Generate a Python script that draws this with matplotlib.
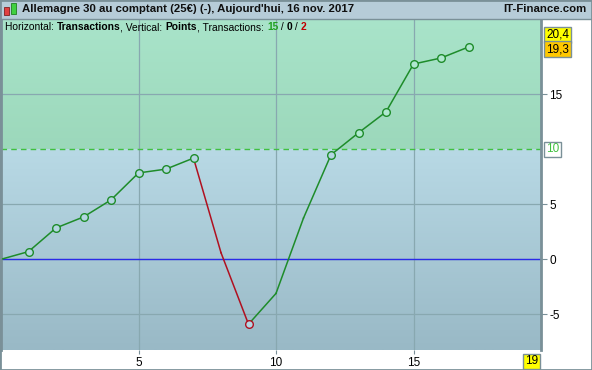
import numpy as np
import matplotlib
matplotlib.use("Agg")
import matplotlib.pyplot as plt
from matplotlib.patches import Rectangle

plt.rcParams['font.family'] = ['Liberation Sans', 'DejaVu Sans']

# Data
x_vals = [0, 1, 2, 3, 4, 5, 6, 7, 8, 9, 10, 11, 12, 13, 14, 15, 16, 17]
y_vals = [0, 0.7, 2.85, 3.85, 5.4, 7.85, 8.2, 9.2, 0.6, -5.9, -3.1, 3.75, 9.5, 11.5, 13.4, 17.75, 18.3, 19.3]
seg_colors = ['green'] * 7 + ['red'] * 2 + ['green'] * 8   # colour of segment i -> i+1
marker_x = [1, 2, 3, 4, 5, 6, 7, 9, 12, 13, 14, 15, 16, 17]
marker_c = ['green'] * 7 + ['red'] + ['green'] * 6
y_ticks = [-5, 0, 5, 15]
x_ticks = [5, 10, 15]
threshold = 10
max_label = 20.4
last_label = 19.3
last_x = 19

title = "Allemagne 30 au comptant (25\u20ac) (-), Aujourd'hui, 16 nov. 2017"
site = "IT-Finance.com"

GREEN = '#1e8c2a'
RED = '#b01020'

W, H = 592, 370
fig = plt.figure(figsize=(W / 100, H / 100), dpi=100)
fig.patch.set_facecolor('white')

L, R, T, B = 1, 541, 19, 350
ax = fig.add_axes([L / W, (H - B) / H, (R - L) / W, (B - T) / H])
xmin, xmax = 0, (R - L) / 27.5
ymax = (259.3 - T) / 11.0
ymin = (259.3 - B) / 11.0
ax.set_xlim(xmin, xmax)
ax.set_ylim(ymin, ymax)

# gradient backgrounds
g_top = np.array([0xa9, 0xe4, 0xca]) / 255
g_bot = np.array([0x9c, 0xd8, 0xbb]) / 255
grad = np.linspace(0, 1, 100)[:, None, None]
img_g = g_top * (1 - grad) + g_bot * grad
ax.imshow(img_g, extent=[xmin, xmax, threshold, ymax], origin='upper',
          aspect='auto', zorder=0, interpolation='bilinear')
b_top = np.array([0xb8, 0xd9, 0xe5]) / 255
b_bot = np.array([0x99, 0xb9, 0xc6]) / 255
img_b = b_top * (1 - grad) + b_bot * grad
ax.imshow(img_b, extent=[xmin, xmax, ymin, threshold], origin='upper',
          aspect='auto', zorder=0, interpolation='bilinear')

# grid
for xv in x_ticks:
    ax.axvline(xv, color='#88a8b0', lw=0.9, zorder=1)
for yv in y_ticks:
    ax.axhline(yv, color='#88a8b0', lw=0.9, zorder=1)
ax.axhline(0, color='#2a2ae8', lw=1.0, zorder=2)
ax.axhline(threshold, color='#40c040', lw=1.0, ls=(0, (4, 3)), zorder=2)

# line segments
for i in range(len(x_vals) - 1):
    c = GREEN if seg_colors[i] == 'green' else RED
    ax.plot(x_vals[i:i + 2], y_vals[i:i + 2], color=c, lw=1.1, zorder=3)
for mx, mc in zip(marker_x, marker_c):
    c = GREEN if mc == 'green' else RED
    yv = y_vals[x_vals.index(mx)]
    face = '#b0e8d0' if yv > threshold else '#b4d6e2'
    ax.plot([mx], [yv], 'o', ms=5.5, mfc=face, mec=c, mew=1.0, zorder=4)

for s in ['top', 'bottom']:
    ax.spines[s].set_visible(False)
ax.spines['right'].set_color('#7a9098')
ax.spines['right'].set_linewidth(2)
ax.spines['left'].set_color('#7a9098')
ax.spines['left'].set_linewidth(2)

ax.yaxis.tick_right()
ax.set_yticks(y_ticks)
ax.set_yticklabels([str(v) for v in y_ticks])
ax.tick_params(axis='y', length=4, color='#7a9098', labelsize=8.5, pad=2)
ax.set_xticks(x_ticks)
ax.set_xticklabels([str(v) for v in x_ticks])
ax.tick_params(axis='x', length=3, color='#7a9098', labelsize=8.5, pad=2)

# boxed right labels
def rbox(yv, txt, fc, tc='black'):
    ax.text(1.0 + 5 / (R - L), yv, txt, transform=ax.get_yaxis_transform(), ha='left',
            va='center', fontsize=8.5, color=tc, clip_on=False,
            bbox=dict(boxstyle='square,pad=0.15', fc=fc, ec='#7a9098', lw=1))

rbox(max_label, '20,4', '#ffff00')
rbox(last_label - 0.2, '19,3', '#ffc800')
rbox(threshold, '10', 'white', '#40c040')

ax.text(last_x + 0.3, ymin - 0.5, str(last_x), transform=ax.transData, ha='center',
        va='top', fontsize=8.5, clip_on=False,
        bbox=dict(boxstyle='square,pad=0.15', fc='#ffff00', ec='#7a9098', lw=1))

# subtitle
parts = [("Horizontal: ", 'normal', 'black'), ("Transactions", 'bold', 'black'),
         (", Vertical: ", 'normal', 'black'), ("Points", 'bold', 'black'),
         (", Transactions: ", 'normal', 'black'), ("15", 'bold', '#20a020'),
         (" / ", 'normal', 'black'), ("0", 'bold', 'black'),
         (" / ", 'normal', 'black'), ("2", 'bold', '#c00000')]
SUB_FS = 7.4
renderer = fig.canvas.get_renderer()
xpix = L + 4
ybase = (H - 30) / H
for s, w, c in parts:
    t = fig.text(xpix / W, ybase, s, ha='left', va='baseline', fontsize=SUB_FS,
                 fontweight=w, color=c, zorder=10)
    probe = fig.text(0, 0, s.replace(' ', '\u00a0') + '|', fontsize=SUB_FS, fontweight=w)
    pb = fig.text(0, 0, '|', fontsize=SUB_FS, fontweight=w)
    wpx = probe.get_window_extent(renderer).width - pb.get_window_extent(renderer).width
    probe.remove()
    pb.remove()
    xpix += wpx

# title bar
fig.patches.append(Rectangle((0, (H - T) / H), 1, T / H, transform=fig.transFigure,
                             fc='#b6ccd8', ec='none', zorder=0))
fig.add_artist(plt.Line2D([0, 1], [(H - T) / H, (H - T) / H], transform=fig.transFigure,
                          color='#7a9098', lw=1))
# candle icon
fig.patches.append(Rectangle((4 / W, (H - 15) / H), 5 / W, 8 / H, transform=fig.transFigure,
                             fc='#e04040', ec='#802020', lw=0.6))
fig.patches.append(Rectangle((11 / W, (H - 14) / H), 5 / W, 11 / H, transform=fig.transFigure,
                             fc='#40d040', ec='#208020', lw=0.6))
fig.text(22 / W, (H - 9.5) / H, title, ha='left', va='center', fontsize=8.2,
         fontweight='bold', color='#101010')
fig.text((W - 5) / W, (H - 9.5) / H, site, ha='right', va='center', fontsize=8.2,
         fontweight='bold', color='#101010')

# outer border
fig.patches.append(Rectangle((0, 0), 1, 1, transform=fig.transFigure, fill=False,
                             ec='#7a9098', lw=2))

fig.savefig('out.png', dpi=100)
